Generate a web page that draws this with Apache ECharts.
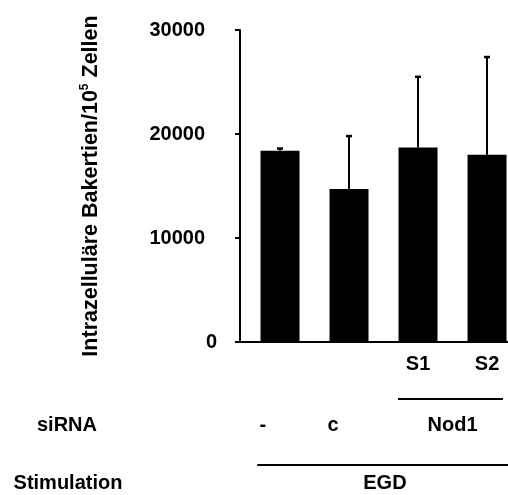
<!DOCTYPE html>
<html>
<head>
<meta charset="utf-8">
<script src="https://cdn.jsdelivr.net/npm/echarts@6/dist/echarts.min.js"></script>
<style>html,body{margin:0;padding:0;background:#fff;}#c{width:508px;height:495px;}</style>
</head>
<body>
<div id="c"></div>
<script>
// Data
const barPositions = [0, 1, 2, 3];
const barValues = [18400, 14700, 18700, 18000];
const errorUp = [200, 5100, 6800, 9400];
const yTicks = [0, 10000, 20000, 30000];
const xTickPositions = [2, 3];
const xTickLabels = ['S1', 'S2'];
const siRNALabels = ['-', 'c', 'Nod1'];
const siRNAPositions = [-0.25, 0.77, 2.5];
const nod1Span = [1.71, 3.23];
const stimLabels = ['EGD'];
const stimPositions = [1.52];
const stimSpan = [-0.33, 3.5];

const FONT = '"Liberation Sans", Arial, sans-serif';
const chart = echarts.init(document.getElementById('c'), null, {renderer: 'canvas'});

const barData = barPositions.map((p, i) => [p, barValues[i]]);
const errData = barPositions.map((p, i) => [p, barValues[i], barValues[i] + errorUp[i]]);

chart.setOption({
  animation: false,
  backgroundColor: '#fff',
  grid: {left: 240, right: 0, top: 30, bottom: 153},
  xAxis: {
    type: 'value', min: -0.58, max: 3.304,
    splitLine: {show: false},
    axisLine: {show: true, onZero: false, lineStyle: {color: '#000', width: 2}},
    axisTick: {show: false},
    axisLabel: {
      customValues: xTickPositions,
      formatter: v => xTickLabels[xTickPositions.indexOf(v)] || '',
      color: '#000', fontFamily: FONT, fontWeight: 'bold', fontSize: 20, margin: 12
    }
  },
  yAxis: {
    type: 'value', min: 0, max: 30000, interval: 10000,
    splitLine: {show: false},
    axisLine: {show: true, onZero: false, lineStyle: {color: '#000', width: 2}},
    axisTick: {show: true, inside: false, length: 5, lineStyle: {color: '#000', width: 2}},
    axisLabel: {
      color: '#000', fontFamily: FONT, fontWeight: 'bold', fontSize: 20, margin: 23,
      formatter: v => v === 0 ? '{z|0}' : '{n|' + v + '}',
      rich: {
        z: {fontFamily: FONT, fontWeight: 'bold', fontSize: 20, color: '#000'},
        n: {fontFamily: FONT, fontWeight: 'bold', fontSize: 20, color: '#000', padding: [0, 12, 0, 0]}
      }
    },
    name: '{t|Intrazelluläre Bakertien/10}{s|5}{t| Zellen}',
    nameLocation: 'middle',
    nameGap: 137,
    nameTextStyle: {
      rich: {
        t: {fontFamily: FONT, fontWeight: 'bold', fontSize: 21.5, color: '#000'},
        s: {fontFamily: FONT, fontWeight: 'bold', fontSize: 12, color: '#000', verticalAlign: 'top', padding: [0, 0, 12, 0]}
      }
    }
  },
  series: [
    {
      type: 'bar', data: barData, barWidth: 39,
      itemStyle: {color: '#000'}
    },
    {
      type: 'custom', data: errData, z: 5,
      renderItem: function (params, api) {
        const x = api.value(0);
        const top = api.coord([x, api.value(2)]);
        const base = api.coord([x, api.value(1)]);
        return {
          type: 'group',
          children: [
            {type: 'line', shape: {x1: top[0], y1: base[1], x2: top[0], y2: top[1]}, style: {stroke: '#000', lineWidth: 2}},
            {type: 'line', shape: {x1: top[0] - 3, y1: top[1], x2: top[0] + 3, y2: top[1]}, style: {stroke: '#000', lineWidth: 2.5}}
          ]
        };
      }
    }
  ]
});

function px(v) { return chart.convertToPixel({xAxisIndex: 0}, v); }
const textStyle = (t) => ({text: t, font: 'bold 20px ' + FONT, fill: '#000', textAlign: 'center', textVerticalAlign: 'middle'});
const g = [];
siRNALabels.forEach((t, i) => g.push({type: 'text', x: px(siRNAPositions[i]), y: 425, style: textStyle(t)}));
stimLabels.forEach((t, i) => g.push({type: 'text', x: px(stimPositions[i]), y: 483, style: textStyle(t)}));
g.push({type: 'text', x: 67, y: 425, style: textStyle('siRNA')});
g.push({type: 'text', x: 68, y: 483, style: textStyle('Stimulation')});
g.push({type: 'line', shape: {x1: px(nod1Span[0]), y1: 399, x2: px(nod1Span[1]), y2: 399}, style: {stroke: '#000', lineWidth: 2}});
g.push({type: 'line', shape: {x1: px(stimSpan[0]), y1: 465, x2: px(stimSpan[1]), y2: 465}, style: {stroke: '#000', lineWidth: 2}});
chart.setOption({graphic: g});
</script>
</body>
</html>
